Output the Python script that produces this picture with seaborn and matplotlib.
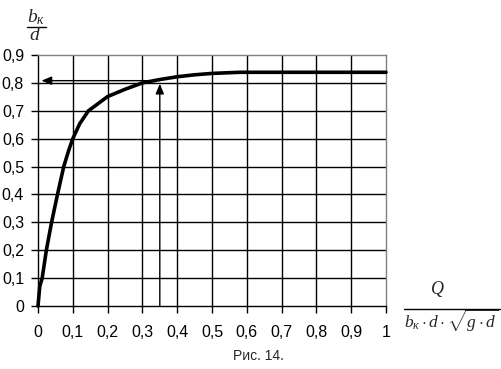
import matplotlib
matplotlib.use("Agg")
import matplotlib.pyplot as plt
import seaborn as sns
import numpy as np
import pandas as pd
from matplotlib.lines import Line2D

# ---- data ----
x_vals = [0, 0.005, 0.012, 0.024, 0.039, 0.056, 0.074, 0.088, 0.1, 0.12, 0.145,
          0.2, 0.25, 0.3, 0.35, 0.4, 0.45, 0.5, 0.58, 1.0]
y_vals = [0, 0.07, 0.1, 0.2, 0.3, 0.4, 0.5, 0.557, 0.6, 0.654, 0.70,
          0.751, 0.777, 0.80, 0.812, 0.822, 0.829, 0.834, 0.838, 0.838]
x_ticks = [0, 0.1, 0.2, 0.3, 0.4, 0.5, 0.6, 0.7, 0.8, 0.9, 1.0]
x_labels = ['0', '0,1', '0,2', '0,3', '0,4', '0,5', '0,6', '0,7', '0,8', '0,9', '1']
y_ticks = [0, 0.1, 0.2, 0.3, 0.4, 0.5, 0.6, 0.7, 0.8, 0.9]
y_labels = ['0', '0,1', '0,2', '0,3', '0,4', '0,5', '0,6', '0,7', '0,8', '0,9']
arrow_x = 0.35
arrow_y = 0.808
arrow_x_start = 0.33

sns.set_theme(style="white")
plt.rcParams['font.family'] = ['Liberation Sans', 'DejaVu Sans']
plt.rcParams['mathtext.fontset'] = 'custom'
plt.rcParams['mathtext.it'] = 'Liberation Serif:italic'
plt.rcParams['mathtext.rm'] = 'Liberation Serif'

W, H = 502, 369
fig = plt.figure(figsize=(W / 100, H / 100), dpi=100)
fig.patch.set_facecolor('white')
ax = fig.add_axes([38 / W, 1 - 306 / H, (386 - 38) / W, (306 - 55) / H])
ax.set_facecolor('white')

df = pd.DataFrame({'x': x_vals, 'y': y_vals})
sns.lineplot(data=df, x='x', y='y', ax=ax, color='black', lw=2.6,
             clip_on=False, zorder=5, sort=False)

ax.set_xlim(0, 1)
ax.set_ylim(0, 0.9)
ax.set_xticks(x_ticks)
ax.set_xticklabels(x_labels)
ax.set_yticks(y_ticks)
ax.set_yticklabels(y_labels)
ax.set_xlabel('')
ax.set_ylabel('')
ax.tick_params(axis='both', direction='out', length=5, width=1, color='black',
               labelsize=11.5, labelcolor='black', bottom=True, left=True)
ax.tick_params(axis='x', pad=9)
ax.tick_params(axis='y', pad=5)

ax.grid(True, color='black', lw=1)
ax.get_ygridlines()[-1].set_visible(False)
ax.get_xgridlines()[-1].set_visible(False)
ax.get_ygridlines()[0].set_visible(False)
ax.get_xgridlines()[0].set_visible(False)

for s in ['left', 'bottom']:
    ax.spines[s].set_color('black')
    ax.spines[s].set_linewidth(1)
for s in ['top', 'right']:
    ax.spines[s].set_color('#808080')
    ax.spines[s].set_linewidth(1)

# arrows
ax.annotate('', xy=(arrow_x, 0.797), xytext=(arrow_x, 0),
            arrowprops=dict(arrowstyle='-|>,head_length=0.6,head_width=0.25',
                            lw=1, color='black', shrinkA=0, shrinkB=0,
                            mutation_scale=10))
ax.annotate('', xy=(0.01, arrow_y), xytext=(arrow_x_start, arrow_y),
            arrowprops=dict(arrowstyle='-|>,head_length=0.6,head_width=0.25',
                            lw=1, color='black', shrinkA=0, shrinkB=0,
                            mutation_scale=10))

def fx(px):
    return px / W

def fy(py):
    return 1 - py / H

# y-axis label fraction
fig.text(fx(36), fy(22), r'$b_к$', ha='center', va='baseline', fontsize=14)
fig.add_artist(Line2D([fx(27), fx(46)], [fy(27), fy(27)], color='black', lw=1))
fig.text(fx(35), fy(40), r'$d$', ha='center', va='baseline', fontsize=14)

# x-axis label fraction
fig.text(fx(437), fy(294), r'$Q$', ha='center', va='baseline', fontsize=13)
fig.add_artist(Line2D([fx(404), fx(500)], [fy(309), fy(309)], color='black', lw=1))
fig.text(fx(451), fy(328), r'$b_к\cdot d\cdot\sqrt{g\cdot d}$', ha='center',
         va='baseline', fontsize=12.5)

fig.text(fx(258), fy(360), 'Рис. 14.', ha='center', va='baseline', fontsize=10)

fig.savefig('out.png', dpi=100, facecolor='white')
